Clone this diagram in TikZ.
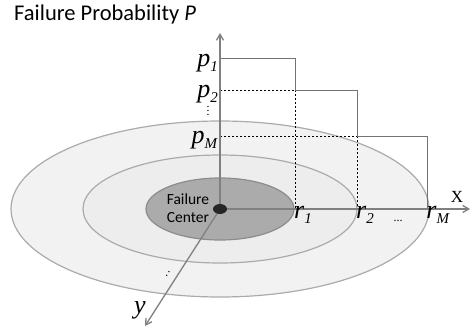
\documentclass[tikz,border=0pt]{standalone}
\usepackage{fontspec}
\setmainfont{Liberation Serif}
\newfontfamily\calib{Carlito}
\usepackage{tikz}
\usetikzlibrary{arrows.meta,positioning}

\newcommand{\lvl}[2]{\textit{#1}\raisebox{-0.45ex}{\fontsize{15}{15}\selectfont\textit{#2}}}

\begin{document}
\begin{tikzpicture}[
  x=1pt, y=-1pt,
  ring/.style={draw=black!33, line width=1.2pt},
  axis/.style={draw=black!50, line width=1.3pt, -{Straight Barb[length=6pt,width=7pt]}},
  stair/.style={draw=black!55, line width=1pt},
  guide/.style={draw=black, line width=0.6pt, dash pattern=on 2pt off 2pt},
  sym/.style={font=\fontsize{26}{26}\selectfont, inner sep=0pt},
  dots/.style={font=\fontsize{12}{12}\selectfont, inner sep=0pt}
]
\useasboundingbox (0,0) rectangle (471,329);
% rings round the failure center
\fill[white] (0,0) rectangle (471,329);
\draw[ring, fill=black!5] (220,209) ellipse [x radius=209, y radius=88];
\draw[ring, fill=black!7] (220,209) ellipse [x radius=137, y radius=54];
\draw[ring, draw=black!45, fill=black!33] (220,209) ellipse [x radius=74, y radius=31];
\node[font=\calib\fontsize{15.5}{18}\selectfont, align=center, inner sep=0pt] (fc) at (188,208) {Failure\\Center};

% levels on the axes
\coordinate (o) at (220,209);
\coordinate (ztop) at (220,33);
\coordinate (xend) at (470,209);
\coordinate (yend) at (145,326);
\coordinate (p1) at (220,59);
\coordinate (p2) at (220,90);
\coordinate (pm) at (220,136);
\coordinate (r1) at (295,209);
\coordinate (r2) at (357,209);
\coordinate (rm) at (427,209);

\draw[guide] (p2) -- (r1 |- p2);
\draw[guide] (pm) -- (r2 |- pm);
\draw[guide] (r1 |- p2) -- (r1);
\draw[guide] (r2 |- pm) -- (r2);
\draw[stair] (p1) -| (r1 |- p2) -| (r2 |- pm) -| (rm);

\draw[axis] (o) -- (ztop);
\draw[axis] (o) -- (xend);
\draw[axis] (o) -- (yend);
\fill[black!85] (o) ellipse [x radius=7, y radius=5];

\node[font=\calib\fontsize{22.5}{22.5}\selectfont, anchor=west, inner sep=0pt] (title) at (14,15) {Failure Probability \textit{P}};
\node[sym, anchor=east] (lp1) at ([xshift=-2,yshift=-4]p1) {\lvl{p}{1}};
\node[sym, anchor=east] (lp2) at ([xshift=-2,yshift=-4]p2) {\lvl{p}{2}};
\node[dots, rotate=90] (vd) at (208,111) {.\hspace{1pt}.\hspace{1pt}.};
\node[sym, anchor=east] (lpm) at ([xshift=-2,yshift=-4]pm) {\lvl{p}{M}};
\node[sym, anchor=north] (lr1) at ([xshift=8,yshift=3]r1) {\lvl{r}{1}};
\node[sym, anchor=north] (lr2) at ([xshift=8,yshift=3]r2) {\lvl{r}{2}};
\node[dots, anchor=base] (hd) at (398,221) {...};
\node[sym, anchor=north] (lrm) at ([xshift=11,yshift=3]rm) {\lvl{r}{M}};
\node[font=\fontsize{17}{17}\selectfont, inner sep=0pt] (lx) at (457,197) {X};
\node[sym] (ly) at (140,310) {\textit{y}};
\node[dots, rotate=-30] (dd) at (168,274) {:};
\end{tikzpicture}
\end{document}
